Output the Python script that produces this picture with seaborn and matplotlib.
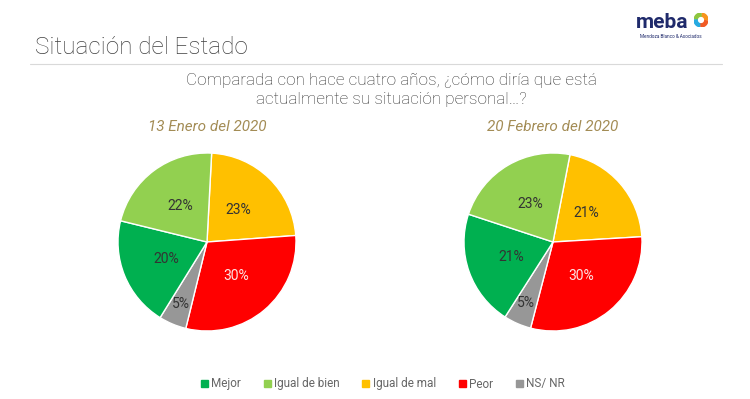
import seaborn as sns
import matplotlib.pyplot as plt
from matplotlib.patches import Wedge, Rectangle
from matplotlib.lines import Line2D

# Data
categories = ['Mejor', 'Igual de bien', 'Igual de mal', 'Peor', 'NS/ NR']
# values in clockwise drawing order starting near 12 o'clock
draw_order = ['Igual de mal', 'Peor', 'NS/ NR', 'Mejor', 'Igual de bien']
enero_values = [23, 30, 5, 20, 22]
febrero_values = [21, 30, 5, 21, 23]
survey_dates = ['13 Enero del 2020', '20 Febrero del 2020']
start_angles = [87, 79]

palette = dict(zip(categories, sns.color_palette(
    ['#00B050', '#92D050', '#FFC000', '#FF0000', '#979797'])))

sns.set_theme(style="white")
plt.rcParams['font.family'] = ['Roboto', 'DejaVu Sans']

W, H = 750, 399
fig = plt.figure(figsize=(7.5, 3.99), dpi=100)
fig.patch.set_facecolor('white')

# Header
fig.text(35 / W, 1 - 48 / H, 'Situación del Estado', fontsize=17.5,
         color='#404040', fontweight='light', va='center', ha='left')
fig.add_artist(Line2D([30 / W, 722 / W], [1 - 64 / H, 1 - 64 / H],
                      color='#d9d9d9', lw=0.8))
fig.text(391 / W, 1 - 90 / H,
         'Comparada con hace cuatro años, ¿cómo diría que está\n'
         'actualmente su situación personal…?',
         fontsize=12.3, color='#333333', ha='center', va='center',
         fontweight='light', linespacing=1.3)

# Logo
fig.text(662 / W, 1 - 22 / H, 'meba', fontsize=15, fontweight='bold',
         color='#1f2a6b', ha='center', va='center')
fig.text(671 / W, 1 - 36 / H, 'Mendoza Blanco & Asociados', fontsize=3.3,
         color='#1f2a6b', ha='center', va='center')
logo_ax = fig.add_axes([694 / W, 1 - 27 / H, 14 / W, 14 / H])
logo_ax.set_xlim(-1, 1)
logo_ax.set_ylim(-1, 1)
logo_ax.set_aspect('equal')
logo_ax.axis('off')
for i, c in enumerate(['#f7941d', '#8dc63f', '#27aae1', '#f15a24']):
    logo_ax.add_patch(Wedge((0, 0), 1, i * 90, i * 90 + 80, width=0.45, color=c))

# Pies
centers = [207, 553]
radius = 89
cy = 242
for cx, vals, date, sa in zip(centers, [enero_values, febrero_values],
                              survey_dates, start_angles):
    ax = fig.add_axes([(cx - radius) / W, (H - cy - radius) / H,
                       2 * radius / W, 2 * radius / H])
    wedges, texts, autotexts = ax.pie(
        vals, colors=[palette[c] for c in draw_order], startangle=sa,
        counterclock=False, autopct='%d%%', pctdistance=0.5,
        wedgeprops=dict(edgecolor='white', linewidth=1),
        textprops=dict(fontsize=10, color='#333333'))
    ax.set_xlim(-1, 1)
    ax.set_ylim(-1, 1)
    ax.set_aspect('equal')
    for name, t in zip(draw_order, autotexts):
        if name == 'Peor':
            t.set_color('#fde4e4')
        if name == 'NS/ NR':
            x, y = t.get_position()
            t.set_position((x * 1.5, y * 1.5))
    fig.text(cx / W, 1 - 127 / H, date, fontsize=11, style='italic',
             color='#a38c55', ha='center', va='center')

# Legend
handles = [Rectangle((0, 0), 1, 1, color=palette[c]) for c in categories]
fig.legend(handles, categories, loc='center', bbox_to_anchor=(383 / W, 1 - 384 / H),
           ncol=5, frameon=False, fontsize=8.5, handlelength=0.6, handleheight=0.6,
           handletextpad=0.3, columnspacing=1.9, labelcolor='#666666')

fig.savefig('out.png', dpi=100, facecolor='white')
